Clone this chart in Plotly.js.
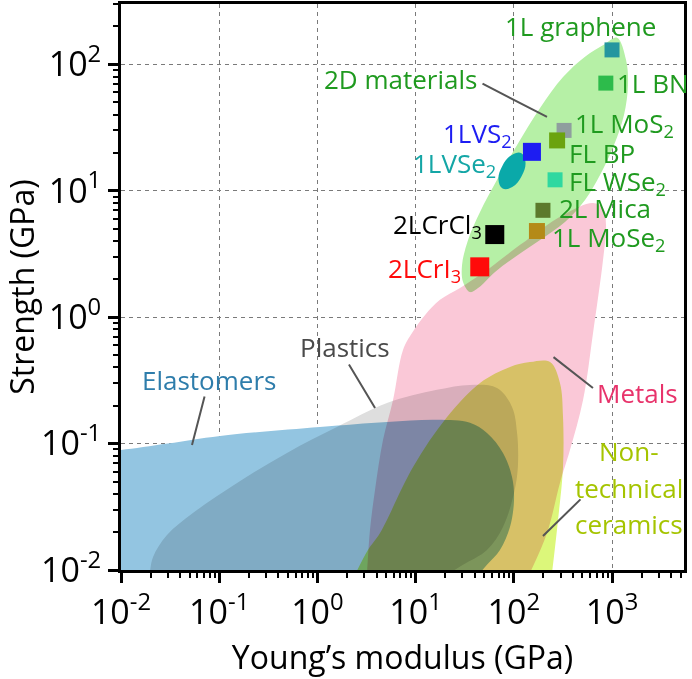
<!DOCTYPE html>
<html><head><meta charset="utf-8">
<script src="https://cdn.plot.ly/plotly-3.0.1.min.js"></script>
<style>
html,body{margin:0;padding:0;background:#fff;}
#chart{width:692px;height:679px;}
.scatterlayer .trace:nth-child(-n+5) .js-fill{mix-blend-mode:multiply;}
</style></head><body><div id="chart"></div>
<script>
// ---- Axis ticks ----
const xTickVals = [0.01, 0.1, 1, 10, 100, 1000];
const xTickText = ['10<sup>-2</sup>','10<sup>-1</sup>','10<sup>0</sup>','10<sup>1</sup>','10<sup>2</sup>','10<sup>3</sup>'];
const yTickVals = [0.01, 0.1, 1, 10, 100];
const yTickText = ['10<sup>-2</sup>','10<sup>-1</sup>','10<sup>0</sup>','10<sup>1</sup>','10<sup>2</sup>'];

// ---- Material-family regions (Young's modulus GPa, strength GPa) ----
const elastomerE = [0.006, 0.006, 0.01, 0.03, 0.102, 1.06, 5.11, 16.5, 35.8, 53.3, 77.6, 95.9, 100.5, 91.4, 72.3, 53.3, 45.3];
const elastomerS = [0.0095, 0.0857, 0.0889, 0.1, 0.115, 0.135, 0.148, 0.154, 0.146, 0.121, 0.0843, 0.0545, 0.0358, 0.0219, 0.0144, 0.011, 0.0095];

const plasticE = [0.0197, 0.0212, 0.0294, 0.054, 0.152, 0.49, 1.58, 5.11, 16.5, 35.8, 67.5, 95.9, 108, 110, 100.5, 77.6, 53.3, 30.4, 22.4];
const plasticS = [0.0095, 0.0127, 0.0189, 0.0282, 0.0488, 0.0843, 0.135, 0.209, 0.266, 0.291, 0.275, 0.195, 0.121, 0.0653, 0.0407, 0.0219, 0.0144, 0.011, 0.0095];

const metalE = [3.20, 3.43, 3.86, 4.66, 5.89, 7.44, 9.19, 12.5, 17.7, 28.3, 48.6, 116, 317, 641, 810, 869, 810, 641, 507, 373, 295, 218, 146];
const metalS = [0.0095, 0.0207, 0.043, 0.107, 0.221, 0.551, 0.750, 1.04, 1.37, 1.70, 2.24, 3.73, 6.44, 8.01, 7.31, 5.36, 2.84, 0.750, 0.221, 0.0889, 0.0488, 0.0196, 0.0095];

const ceramicE = [2.47, 3.27, 4.34, 9.42, 20.9, 45.3, 91.4, 146, 234, 295, 317, 317, 282, 245];
const ceramicS = [0.0095, 0.0144, 0.0196, 0.0653, 0.162, 0.302, 0.404, 0.442, 0.442, 0.302, 0.162, 0.0653, 0.0249, 0.0095];

const twoDE = [1125, 1390, 1455, 1324, 1047, 755, 531, 332, 185, 103, 64.4, 43.2, 35.8, 30.4, 29.7, 34.2, 45.3, 67.5, 108, 185, 317, 531, 849, 1125];
const twoDS = [162, 108, 68.7, 39.8, 23.0, 13.3, 8.45, 5.66, 4.08, 2.99, 2.28, 1.70, 1.58, 1.90, 2.59, 4.08, 6.79, 12.2, 23.0, 45.2, 79.4, 115, 145, 162];

// 1L VSe2 range (ellipse outline)
const vse2E = [119.5, 131.5, 120.3, 96.5, 76.9, 69.8, 76.4, 95.4, 119.5];
const vse2S = [19.8, 16.8, 13.1, 10.7, 10.4, 12.2, 15.7, 19.2, 19.8];

// ---- Individual 2D materials ----
const materials = ['1L graphene', '1L BN', '1L MoS2', 'FL BP', 'FL WSe2', '2L Mica', '1L MoSe2', '1LVS2', '2LCrCl3', '2LCrI3'];
const modulus  = [1000, 865, 325, 276, 263, 198, 172, 153, 64, 45];
const strength = [130, 71, 30, 25, 12.2, 7.0, 4.8, 20.3, 4.5, 2.5];
const markerColors = ['#24969f', '#2dbb4b', '#8f9e9e', '#6ba30e', '#2fd8a0', '#5c7a2c', '#b48a18', '#1d1df2', '#000000', '#ff0a0a'];
const markerSizes = [15, 15, 15, 16, 15, 15, 16, 18, 19, 19];

const FONT = '"Open Sans", sans-serif';

// minor ticks (2..9 per decade)
function minorTicks(lo, hi) {
  const out = [];
  for (let d = lo; d <= hi; d++) for (let m = 2; m <= 9; m++) out.push(m * Math.pow(10, d));
  return out;
}

function region(x, y, color) {
  return {x, y, type:'scatter', mode:'lines', fill:'toself', fillcolor:color,
    line:{width:0, shape:'spline', smoothing:1, color:color}, hoverinfo:'skip'};
}

const traces = [
  region(elastomerE, elastomerS, '#93c5e1'),
  region(plasticE, plasticS, '#dedede'),
  region(metalE, metalS, '#fac8d7'),
  region(ceramicE, ceramicS, '#dcf77a'),
  region(twoDE, twoDS, '#b6f0a6'),
  {x: vse2E, y: vse2S, type:'scatter', mode:'lines', fill:'toself', fillcolor:'#0aa9a9',
   line:{width:0, shape:'spline', smoothing:1.2, color:'#0aa9a9'}, hoverinfo:'skip'},
  {x: modulus, y: strength, text: materials, type:'scatter', mode:'markers',
   marker:{symbol:'square', size:markerSizes, color:markerColors, opacity:1, line:{width:0}}, hoverinfo:'text'}
];

function lab(text, x, y, color, xanchor, size) {
  return {text, x, y, xref:'x', yref:'y', showarrow:false, xanchor: xanchor || 'center', yanchor:'middle',
    font:{family:FONT, size: size || 26, color}};
}
function ptr(x0, y0, x1, y1) {
  return {x:x1, y:y1, ax:x0, ay:y0, xref:'x', yref:'y', axref:'x', ayref:'y', text:'', showarrow:true,
    arrowhead:0, arrowwidth:2, arrowcolor:'#555', standoff:0, startstandoff:0};
}
const G = '#1f9a1f';
const annotations = [
  lab('1L graphene', 2.674, 2.304, G, 'center'),
  lab('1L BN', 3.030, 1.853, G, 'left'),
  lab('2D materials', 0.841, 1.884, G, 'center'),
  lab('1L MoS<sub>2</sub>', 2.603, 1.530, G, 'left'),
  lab('FL BP', 2.542, 1.299, G, 'left'),
  lab('FL WSe<sub>2</sub>', 2.542, 1.070, G, 'left'),
  lab('2L Mica', 2.440, 0.864, G, 'left'),
  lab('1L MoSe<sub>2</sub>', 2.369, 0.630, G, 'left'),
  lab('1LVS<sub>2</sub>', 2.002, 1.450, '#1d1df2', 'right'),
  lab('1LVSe<sub>2</sub>', 1.839, 1.210, '#14a6a6', 'right'),
  lab('2LCrCl<sub>3</sub>', 1.697, 0.725, '#000000', 'right'),
  lab('2LCrI<sub>3</sub>', 1.483, 0.380, '#ff0a0a', 'right'),
  lab('Plastics', 0.276, -0.236, '#4a4a4a', 'center'),
  lab('Elastomers', -1.109, -0.497, '#2e7dab', 'center'),
  lab('Metals', 3.255, -0.600, '#e8336b', 'center'),
  lab('Non-', 3.173, -1.059, '#a5c400', 'center'),
  lab('technical', 3.173, -1.351, '#a5c400', 'center'),
  lab('ceramics', 3.173, -1.636, '#a5c400', 'center'),
  ptr(1.666, 1.853, 2.338, 1.584),
  ptr(0.312, -0.362, 0.587, -0.718),
  ptr(-1.145, -0.616, -1.277, -1.011),
  ptr(2.389, -0.307, 2.806, -0.560),
  ptr(2.694, -1.430, 2.297, -1.731)
];

function axisBase() {
  return {type:'log', tickmode:'array', ticks:'outside', ticklen:10, tickwidth:3, tickcolor:'#000',
    showline:true, linewidth:3, linecolor:'#000', mirror:true, showgrid:true, gridcolor:'#7a7a7a',
    griddash:'4px,4px', gridwidth:1, zeroline:false, tickfont:{family:FONT, size:34, color:'#000'},
    automargin:false, fixedrange:true};
}
const xaxis = Object.assign(axisBase(), {range:[-2, 3.733], tickvals:xTickVals, ticktext:xTickText,
  title:{text:'Young’s modulus (GPa)', font:{family:FONT, size:32, color:'#000'}, standoff:14},
  minor:{tickvals:minorTicks(-2, 3), ticks:'outside', ticklen:5, tickwidth:2, tickcolor:'#000', showgrid:false}});
const yaxis = Object.assign(axisBase(), {range:[-2, 2.477], tickvals:yTickVals, ticktext:yTickText,
  title:{text:'Strength (GPa)', font:{family:FONT, size:32, color:'#000'}, standoff:10},
  minor:{tickvals:minorTicks(-2, 2), ticks:'outside', ticklen:5, tickwidth:2, tickcolor:'#000', showgrid:false}});

const layout = {width:692, height:679, margin:{l:121, r:8, t:4, b:109, pad:0},
  paper_bgcolor:'#ffffff', plot_bgcolor:'#ffffff', showlegend:false,
  font:{family:FONT, color:'#000'}, xaxis, yaxis, annotations};

Plotly.newPlot('chart', traces, layout, {displayModeBar:false, staticPlot:true});
</script></body></html>
